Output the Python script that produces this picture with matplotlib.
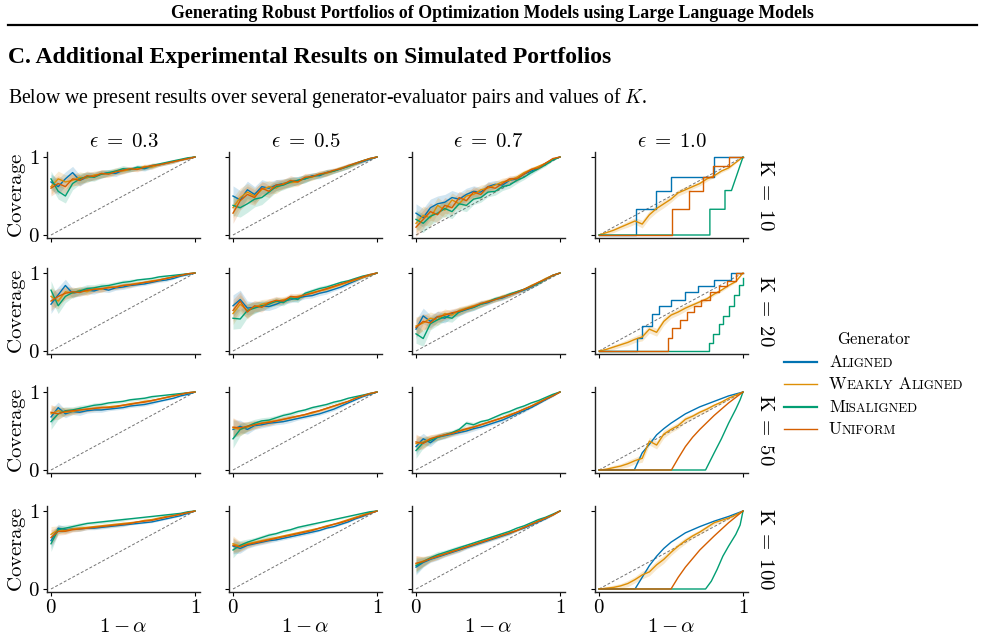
import numpy as np
import matplotlib.pyplot as plt
from matplotlib.lines import Line2D
from matplotlib.offsetbox import TextArea, HPacker, AnchoredOffsetbox

plt.rcParams['font.family'] = 'serif'
plt.rcParams['font.serif'] = ['Liberation Serif', 'DejaVu Serif']
plt.rcParams['mathtext.fontset'] = 'cm'

eps_values = ['0.3', '0.5', '0.7', '1.0']
k_values = [10, 20, 50, 100]
generators = ['Aligned', 'Weakly Aligned', 'Misaligned', 'Uniform']
colors = ['#0173B2', '#DE8F05', '#029E73', '#D55E00']

# x grid (1 - alpha)
one_minus_alpha = [0.0, 0.05, 0.10, 0.15, 0.20, 0.25, 0.30, 0.35, 0.40, 0.45, 0.50,
                   0.55, 0.60, 0.65, 0.70, 0.75, 0.80, 0.85, 0.90, 0.95, 1.0]

# ---- K = 10 ----
aligned_k10_e3 = [0.68, 0.62, 0.72, 0.80, 0.70, 0.74, 0.76, 0.78, 0.80, 0.79, 0.83, 0.84, 0.86, 0.85, 0.88, 0.90, 0.92, 0.94, 0.96, 0.98, 1.0]
weakly_k10_e3 = [0.62, 0.72, 0.68, 0.70, 0.74, 0.73, 0.77, 0.78, 0.79, 0.82, 0.82, 0.84, 0.85, 0.88, 0.87, 0.90, 0.92, 0.94, 0.96, 0.98, 1.0]
misaligned_k10_e3 = [0.72, 0.56, 0.50, 0.66, 0.72, 0.75, 0.74, 0.78, 0.80, 0.82, 0.85, 0.84, 0.87, 0.86, 0.89, 0.91, 0.93, 0.95, 0.97, 0.99, 1.0]
uniform_k10_e3 = [0.60, 0.66, 0.62, 0.72, 0.70, 0.76, 0.75, 0.79, 0.78, 0.81, 0.83, 0.85, 0.84, 0.87, 0.89, 0.90, 0.92, 0.94, 0.96, 0.98, 1.0]
band_k10_e3 = [0.10, 0.10, 0.09, 0.08, 0.07, 0.06, 0.05, 0.05, 0.04, 0.04, 0.04, 0.03, 0.03, 0.03, 0.03, 0.02, 0.02, 0.02, 0.01, 0.01, 0.0]

aligned_k10_e5 = [0.50, 0.45, 0.58, 0.52, 0.62, 0.60, 0.64, 0.66, 0.68, 0.70, 0.72, 0.76, 0.76, 0.80, 0.82, 0.85, 0.88, 0.91, 0.94, 0.97, 1.0]
weakly_k10_e5 = [0.35, 0.48, 0.55, 0.50, 0.58, 0.62, 0.60, 0.66, 0.67, 0.68, 0.73, 0.74, 0.78, 0.79, 0.82, 0.86, 0.88, 0.91, 0.95, 0.98, 1.0]
misaligned_k10_e5 = [0.38, 0.35, 0.40, 0.46, 0.48, 0.55, 0.62, 0.64, 0.68, 0.70, 0.72, 0.75, 0.77, 0.80, 0.82, 0.85, 0.88, 0.92, 0.95, 0.98, 1.0]
uniform_k10_e5 = [0.28, 0.44, 0.52, 0.48, 0.60, 0.56, 0.64, 0.65, 0.70, 0.68, 0.74, 0.75, 0.78, 0.80, 0.83, 0.85, 0.89, 0.92, 0.95, 0.98, 1.0]
band_k10_e5 = [0.13, 0.12, 0.11, 0.10, 0.09, 0.08, 0.07, 0.06, 0.06, 0.05, 0.05, 0.04, 0.04, 0.04, 0.03, 0.03, 0.03, 0.02, 0.02, 0.01, 0.0]

aligned_k10_e7 = [0.28, 0.22, 0.35, 0.40, 0.42, 0.48, 0.46, 0.52, 0.56, 0.55, 0.62, 0.65, 0.64, 0.70, 0.72, 0.78, 0.82, 0.86, 0.92, 0.97, 1.0]
weakly_k10_e7 = [0.15, 0.25, 0.22, 0.38, 0.32, 0.45, 0.40, 0.50, 0.52, 0.58, 0.60, 0.64, 0.68, 0.70, 0.74, 0.80, 0.84, 0.88, 0.92, 0.97, 1.0]
misaligned_k10_e7 = [0.20, 0.15, 0.24, 0.28, 0.34, 0.30, 0.40, 0.38, 0.46, 0.48, 0.55, 0.56, 0.62, 0.64, 0.70, 0.74, 0.80, 0.85, 0.90, 0.96, 1.0]
uniform_k10_e7 = [0.10, 0.20, 0.30, 0.26, 0.38, 0.35, 0.48, 0.44, 0.55, 0.52, 0.62, 0.60, 0.66, 0.72, 0.72, 0.78, 0.84, 0.86, 0.92, 0.98, 1.0]
band_k10_e7 = [0.12, 0.12, 0.11, 0.10, 0.10, 0.09, 0.08, 0.08, 0.07, 0.06, 0.06, 0.05, 0.05, 0.04, 0.04, 0.03, 0.03, 0.02, 0.02, 0.01, 0.0]

# ---- K = 20 ----
aligned_k20_e3 = [0.60, 0.72, 0.84, 0.74, 0.76, 0.78, 0.77, 0.80, 0.78, 0.81, 0.82, 0.84, 0.85, 0.86, 0.88, 0.90, 0.91, 0.93, 0.96, 0.98, 1.0]
weakly_k20_e3 = [0.70, 0.64, 0.76, 0.74, 0.78, 0.76, 0.80, 0.79, 0.82, 0.82, 0.84, 0.85, 0.87, 0.88, 0.90, 0.91, 0.93, 0.95, 0.97, 0.99, 1.0]
misaligned_k20_e3 = [0.78, 0.58, 0.70, 0.75, 0.77, 0.80, 0.81, 0.83, 0.84, 0.86, 0.88, 0.89, 0.91, 0.92, 0.93, 0.95, 0.96, 0.97, 0.98, 0.99, 1.0]
uniform_k20_e3 = [0.64, 0.70, 0.74, 0.76, 0.75, 0.78, 0.79, 0.80, 0.81, 0.82, 0.84, 0.85, 0.86, 0.88, 0.89, 0.91, 0.93, 0.95, 0.97, 0.99, 1.0]
band_k20_e3 = [0.12, 0.10, 0.08, 0.06, 0.05, 0.05, 0.04, 0.04, 0.03, 0.03, 0.03, 0.03, 0.02, 0.02, 0.02, 0.02, 0.02, 0.01, 0.01, 0.01, 0.0]

aligned_k20_e5 = [0.58, 0.66, 0.55, 0.56, 0.58, 0.57, 0.60, 0.64, 0.66, 0.68, 0.70, 0.71, 0.74, 0.76, 0.79, 0.82, 0.86, 0.90, 0.94, 0.97, 1.0]
weakly_k20_e5 = [0.48, 0.60, 0.52, 0.56, 0.60, 0.62, 0.63, 0.66, 0.67, 0.70, 0.72, 0.75, 0.77, 0.79, 0.82, 0.85, 0.88, 0.91, 0.94, 0.97, 1.0]
misaligned_k20_e5 = [0.42, 0.41, 0.52, 0.55, 0.58, 0.60, 0.64, 0.62, 0.68, 0.66, 0.74, 0.77, 0.80, 0.82, 0.85, 0.88, 0.90, 0.93, 0.96, 0.98, 1.0]
uniform_k20_e5 = [0.52, 0.64, 0.50, 0.58, 0.56, 0.62, 0.65, 0.64, 0.70, 0.69, 0.72, 0.74, 0.77, 0.80, 0.83, 0.86, 0.89, 0.92, 0.95, 0.98, 1.0]
band_k20_e5 = [0.14, 0.12, 0.09, 0.07, 0.06, 0.05, 0.05, 0.04, 0.04, 0.04, 0.03, 0.03, 0.03, 0.03, 0.02, 0.02, 0.02, 0.02, 0.01, 0.01, 0.0]

aligned_k20_e7 = [0.28, 0.45, 0.38, 0.44, 0.42, 0.48, 0.50, 0.53, 0.56, 0.60, 0.62, 0.66, 0.68, 0.72, 0.75, 0.78, 0.82, 0.87, 0.92, 0.97, 1.0]
weakly_k20_e7 = [0.32, 0.36, 0.42, 0.40, 0.48, 0.46, 0.52, 0.55, 0.58, 0.60, 0.64, 0.66, 0.70, 0.72, 0.76, 0.79, 0.84, 0.88, 0.93, 0.97, 1.0]
misaligned_k20_e7 = [0.22, 0.16, 0.35, 0.40, 0.44, 0.42, 0.50, 0.54, 0.56, 0.60, 0.63, 0.67, 0.69, 0.73, 0.76, 0.79, 0.83, 0.87, 0.92, 0.97, 1.0]
uniform_k20_e7 = [0.30, 0.38, 0.36, 0.44, 0.46, 0.49, 0.51, 0.54, 0.57, 0.61, 0.63, 0.66, 0.69, 0.72, 0.75, 0.79, 0.83, 0.88, 0.92, 0.97, 1.0]
band_k20_e7 = [0.12, 0.10, 0.08, 0.07, 0.06, 0.05, 0.05, 0.04, 0.04, 0.04, 0.03, 0.03, 0.03, 0.03, 0.02, 0.02, 0.02, 0.02, 0.01, 0.01, 0.0]

# ---- K = 50 ----
aligned_k50_e3 = [0.68, 0.80, 0.72, 0.75, 0.74, 0.76, 0.77, 0.77, 0.78, 0.79, 0.80, 0.82, 0.83, 0.84, 0.86, 0.88, 0.90, 0.92, 0.95, 0.97, 1.0]
weakly_k50_e3 = [0.72, 0.76, 0.74, 0.75, 0.77, 0.78, 0.79, 0.80, 0.81, 0.82, 0.83, 0.85, 0.86, 0.88, 0.89, 0.91, 0.93, 0.95, 0.97, 0.99, 1.0]
misaligned_k50_e3 = [0.62, 0.72, 0.76, 0.77, 0.79, 0.81, 0.83, 0.84, 0.86, 0.87, 0.88, 0.90, 0.91, 0.92, 0.94, 0.95, 0.96, 0.97, 0.98, 0.99, 1.0]
uniform_k50_e3 = [0.74, 0.72, 0.75, 0.76, 0.77, 0.78, 0.79, 0.80, 0.80, 0.81, 0.83, 0.84, 0.86, 0.87, 0.89, 0.91, 0.93, 0.95, 0.97, 0.99, 1.0]
band_k50_e3 = [0.10, 0.07, 0.05, 0.04, 0.04, 0.03, 0.03, 0.03, 0.02, 0.02, 0.02, 0.02, 0.02, 0.02, 0.02, 0.01, 0.01, 0.01, 0.01, 0.01, 0.0]

aligned_k50_e5 = [0.52, 0.56, 0.52, 0.57, 0.58, 0.60, 0.61, 0.62, 0.64, 0.66, 0.68, 0.70, 0.72, 0.75, 0.78, 0.82, 0.86, 0.90, 0.94, 0.97, 1.0]
weakly_k50_e5 = [0.54, 0.52, 0.55, 0.58, 0.60, 0.62, 0.63, 0.65, 0.67, 0.69, 0.71, 0.73, 0.76, 0.79, 0.82, 0.85, 0.88, 0.92, 0.95, 0.98, 1.0]
misaligned_k50_e5 = [0.40, 0.52, 0.56, 0.60, 0.63, 0.64, 0.67, 0.70, 0.72, 0.75, 0.77, 0.80, 0.82, 0.84, 0.87, 0.89, 0.92, 0.94, 0.96, 0.98, 1.0]
uniform_k50_e5 = [0.55, 0.54, 0.56, 0.58, 0.60, 0.61, 0.63, 0.65, 0.67, 0.69, 0.71, 0.74, 0.76, 0.79, 0.82, 0.85, 0.88, 0.92, 0.95, 0.98, 1.0]
band_k50_e5 = [0.12, 0.08, 0.06, 0.05, 0.04, 0.04, 0.03, 0.03, 0.03, 0.02, 0.02, 0.02, 0.02, 0.02, 0.02, 0.02, 0.01, 0.01, 0.01, 0.01, 0.0]

aligned_k50_e7 = [0.30, 0.40, 0.35, 0.42, 0.44, 0.46, 0.48, 0.50, 0.53, 0.55, 0.58, 0.61, 0.64, 0.68, 0.72, 0.76, 0.80, 0.85, 0.90, 0.95, 1.0]
weakly_k50_e7 = [0.34, 0.36, 0.40, 0.42, 0.45, 0.47, 0.50, 0.52, 0.55, 0.58, 0.61, 0.64, 0.67, 0.71, 0.74, 0.78, 0.82, 0.87, 0.91, 0.96, 1.0]
misaligned_k50_e7 = [0.25, 0.35, 0.38, 0.42, 0.45, 0.48, 0.52, 0.60, 0.58, 0.62, 0.64, 0.68, 0.72, 0.75, 0.79, 0.82, 0.86, 0.89, 0.93, 0.97, 1.0]
uniform_k50_e7 = [0.36, 0.34, 0.40, 0.43, 0.45, 0.47, 0.50, 0.53, 0.55, 0.58, 0.61, 0.64, 0.67, 0.70, 0.74, 0.78, 0.82, 0.86, 0.91, 0.95, 1.0]
band_k50_e7 = [0.10, 0.07, 0.05, 0.04, 0.04, 0.03, 0.03, 0.03, 0.03, 0.02, 0.02, 0.02, 0.02, 0.02, 0.02, 0.02, 0.01, 0.01, 0.01, 0.01, 0.0]

# ---- K = 100 ----
aligned_k100_e3 = [0.62, 0.78, 0.76, 0.77, 0.77, 0.78, 0.78, 0.79, 0.80, 0.81, 0.82, 0.83, 0.84, 0.85, 0.86, 0.88, 0.90, 0.92, 0.94, 0.97, 1.0]
weakly_k100_e3 = [0.70, 0.76, 0.75, 0.77, 0.78, 0.79, 0.80, 0.81, 0.82, 0.83, 0.84, 0.85, 0.86, 0.88, 0.89, 0.91, 0.93, 0.94, 0.96, 0.98, 1.0]
misaligned_k100_e3 = [0.58, 0.76, 0.78, 0.80, 0.82, 0.84, 0.85, 0.86, 0.87, 0.88, 0.89, 0.90, 0.91, 0.92, 0.93, 0.94, 0.95, 0.96, 0.97, 0.99, 1.0]
uniform_k100_e3 = [0.66, 0.74, 0.74, 0.76, 0.77, 0.78, 0.79, 0.80, 0.81, 0.82, 0.83, 0.84, 0.86, 0.87, 0.88, 0.90, 0.92, 0.94, 0.96, 0.98, 1.0]
band_k100_e3 = [0.10, 0.05, 0.04, 0.03, 0.03, 0.02, 0.02, 0.02, 0.02, 0.02, 0.02, 0.01, 0.01, 0.01, 0.01, 0.01, 0.01, 0.01, 0.01, 0.01, 0.0]

aligned_k100_e5 = [0.55, 0.52, 0.56, 0.58, 0.60, 0.62, 0.63, 0.65, 0.67, 0.69, 0.71, 0.73, 0.75, 0.78, 0.80, 0.83, 0.86, 0.90, 0.93, 0.97, 1.0]
weakly_k100_e5 = [0.58, 0.55, 0.58, 0.60, 0.62, 0.64, 0.66, 0.68, 0.70, 0.72, 0.74, 0.76, 0.78, 0.81, 0.83, 0.86, 0.89, 0.92, 0.95, 0.98, 1.0]
misaligned_k100_e5 = [0.50, 0.56, 0.60, 0.63, 0.66, 0.69, 0.71, 0.74, 0.76, 0.79, 0.81, 0.83, 0.85, 0.87, 0.89, 0.91, 0.93, 0.95, 0.97, 0.99, 1.0]
uniform_k100_e5 = [0.56, 0.54, 0.57, 0.59, 0.61, 0.63, 0.65, 0.67, 0.69, 0.71, 0.73, 0.75, 0.78, 0.80, 0.83, 0.85, 0.88, 0.91, 0.94, 0.97, 1.0]
band_k100_e5 = [0.10, 0.06, 0.04, 0.03, 0.03, 0.03, 0.02, 0.02, 0.02, 0.02, 0.02, 0.02, 0.01, 0.01, 0.01, 0.01, 0.01, 0.01, 0.01, 0.01, 0.0]

aligned_k100_e7 = [0.28, 0.34, 0.38, 0.41, 0.44, 0.47, 0.50, 0.53, 0.56, 0.59, 0.62, 0.65, 0.68, 0.71, 0.75, 0.78, 0.82, 0.86, 0.90, 0.95, 1.0]
weakly_k100_e7 = [0.32, 0.36, 0.39, 0.42, 0.45, 0.48, 0.51, 0.54, 0.57, 0.60, 0.63, 0.66, 0.69, 0.72, 0.75, 0.79, 0.83, 0.87, 0.91, 0.95, 1.0]
misaligned_k100_e7 = [0.30, 0.35, 0.40, 0.44, 0.47, 0.50, 0.53, 0.56, 0.59, 0.62, 0.65, 0.68, 0.71, 0.74, 0.78, 0.81, 0.85, 0.89, 0.92, 0.96, 1.0]
uniform_k100_e7 = [0.33, 0.35, 0.39, 0.42, 0.45, 0.48, 0.51, 0.54, 0.57, 0.60, 0.63, 0.66, 0.69, 0.72, 0.75, 0.79, 0.83, 0.87, 0.91, 0.95, 1.0]
band_k100_e7 = [0.10, 0.06, 0.04, 0.04, 0.03, 0.03, 0.03, 0.02, 0.02, 0.02, 0.02, 0.02, 0.02, 0.02, 0.01, 0.01, 0.01, 0.01, 0.01, 0.01, 0.0]

# ---- eps = 1.0 : weakly aligned on the common grid ----
weakly_k10_e10 = [0.0, 0.03, 0.06, 0.10, 0.14, 0.18, 0.14, 0.26, 0.34, 0.40, 0.46, 0.54, 0.58, 0.62, 0.66, 0.72, 0.76, 0.82, 0.86, 0.93, 1.0]
weakly_k20_e10 = [0.0, 0.02, 0.05, 0.08, 0.11, 0.15, 0.18, 0.28, 0.24, 0.38, 0.46, 0.50, 0.55, 0.59, 0.63, 0.67, 0.73, 0.78, 0.84, 0.89, 1.0]
weakly_k50_e10 = [0.0, 0.01, 0.03, 0.05, 0.08, 0.12, 0.15, 0.37, 0.32, 0.46, 0.52, 0.57, 0.65, 0.69, 0.74, 0.78, 0.83, 0.87, 0.92, 0.96, 1.0]
weakly_k100_e10 = [0.0, 0.01, 0.02, 0.04, 0.07, 0.12, 0.18, 0.22, 0.31, 0.38, 0.47, 0.55, 0.62, 0.68, 0.73, 0.79, 0.85, 0.88, 0.91, 0.95, 1.0]
band_e10 = [0.0, 0.02, 0.03, 0.03, 0.04, 0.04, 0.05, 0.05, 0.05, 0.05, 0.04, 0.04, 0.04, 0.03, 0.03, 0.03, 0.02, 0.02, 0.02, 0.01, 0.0]

# ---- eps = 1.0 : step / curve series (own x values) ----
aligned_k10_e10_x = [0.0, 0.26, 0.395, 0.50, 0.80, 1.0]
aligned_k10_e10_y = [0.0, 0.33, 0.57, 0.75, 1.0, 1.0]
uniform_k10_e10_x = [0.0, 0.505, 0.626, 0.72, 0.79, 0.90, 1.0]
uniform_k10_e10_y = [0.0, 0.33, 0.57, 0.75, 0.88, 1.0, 1.0]
misaligned_k10_e10_x = [0.0, 0.77, 0.77, 0.875, 0.875, 0.92, 1.0]
misaligned_k10_e10_y = [0.0, 0.0, 0.33, 0.33, 0.57, 0.57, 1.0]

aligned_k20_e10_x = [0.0, 0.265, 0.30, 0.365, 0.42, 0.50, 0.60, 0.69, 0.80, 0.92, 1.0]
aligned_k20_e10_y = [0.0, 0.17, 0.32, 0.47, 0.58, 0.66, 0.75, 0.83, 0.91, 1.0, 1.0]
uniform_k20_e10_x = [0.0, 0.48, 0.51, 0.56, 0.61, 0.66, 0.71, 0.77, 0.83, 0.89, 0.95, 1.0]
uniform_k20_e10_y = [0.0, 0.17, 0.30, 0.40, 0.50, 0.58, 0.66, 0.75, 0.83, 0.90, 1.0, 1.0]
misaligned_k20_e10_x = [0.0, 0.765, 0.79, 0.83, 0.86, 0.90, 0.94, 0.97, 1.0]
misaligned_k20_e10_y = [0.0, 0.10, 0.22, 0.35, 0.45, 0.58, 0.72, 0.85, 0.94]

aligned_k50_e10_x = [0.0, 0.245, 0.27, 0.30, 0.35, 0.40, 0.45, 0.50, 0.55, 0.60, 0.70, 0.80, 0.90, 1.0]
aligned_k50_e10_y = [0.0, 0.0, 0.10, 0.22, 0.33, 0.45, 0.53, 0.60, 0.66, 0.72, 0.81, 0.88, 0.95, 1.0]
uniform_k50_e10_x = [0.0, 0.503, 0.55, 0.60, 0.65, 0.70, 0.80, 0.90, 1.0]
uniform_k50_e10_y = [0.0, 0.0, 0.15, 0.30, 0.42, 0.52, 0.70, 0.86, 1.0]
misaligned_k50_e10_x = [0.0, 0.74, 0.80, 0.85, 0.90, 0.95, 0.98, 1.0]
misaligned_k50_e10_y = [0.0, 0.0, 0.22, 0.40, 0.60, 0.78, 0.90, 1.0]

aligned_k100_e10_x = [0.0, 0.25, 0.30, 0.35, 0.40, 0.45, 0.50, 0.60, 0.70, 0.80, 0.90, 1.0]
aligned_k100_e10_y = [0.0, 0.0, 0.15, 0.30, 0.42, 0.52, 0.60, 0.72, 0.80, 0.87, 0.93, 1.0]
uniform_k100_e10_x = [0.0, 0.50, 0.55, 0.60, 0.70, 0.80, 0.90, 1.0]
uniform_k100_e10_y = [0.0, 0.0, 0.15, 0.28, 0.50, 0.68, 0.85, 1.0]
misaligned_k100_e10_x = [0.0, 0.74, 0.78, 0.82, 0.86, 0.90, 0.95, 0.98, 1.0]
misaligned_k100_e10_y = [0.0, 0.0, 0.10, 0.25, 0.42, 0.55, 0.70, 0.82, 1.0]

# tables built from the lists above: rows = K, columns = eps 0.3 / 0.5 / 0.7
noisy = [
    [(aligned_k10_e3, weakly_k10_e3, misaligned_k10_e3, uniform_k10_e3, band_k10_e3),
     (aligned_k10_e5, weakly_k10_e5, misaligned_k10_e5, uniform_k10_e5, band_k10_e5),
     (aligned_k10_e7, weakly_k10_e7, misaligned_k10_e7, uniform_k10_e7, band_k10_e7)],
    [(aligned_k20_e3, weakly_k20_e3, misaligned_k20_e3, uniform_k20_e3, band_k20_e3),
     (aligned_k20_e5, weakly_k20_e5, misaligned_k20_e5, uniform_k20_e5, band_k20_e5),
     (aligned_k20_e7, weakly_k20_e7, misaligned_k20_e7, uniform_k20_e7, band_k20_e7)],
    [(aligned_k50_e3, weakly_k50_e3, misaligned_k50_e3, uniform_k50_e3, band_k50_e3),
     (aligned_k50_e5, weakly_k50_e5, misaligned_k50_e5, uniform_k50_e5, band_k50_e5),
     (aligned_k50_e7, weakly_k50_e7, misaligned_k50_e7, uniform_k50_e7, band_k50_e7)],
    [(aligned_k100_e3, weakly_k100_e3, misaligned_k100_e3, uniform_k100_e3, band_k100_e3),
     (aligned_k100_e5, weakly_k100_e5, misaligned_k100_e5, uniform_k100_e5, band_k100_e5),
     (aligned_k100_e7, weakly_k100_e7, misaligned_k100_e7, uniform_k100_e7, band_k100_e7)],
]
eps_one = [
    dict(weakly=weakly_k10_e10, steps=True,
         aligned=(aligned_k10_e10_x, aligned_k10_e10_y),
         misaligned=(misaligned_k10_e10_x, misaligned_k10_e10_y),
         uniform=(uniform_k10_e10_x, uniform_k10_e10_y)),
    dict(weakly=weakly_k20_e10, steps=True,
         aligned=(aligned_k20_e10_x, aligned_k20_e10_y),
         misaligned=(misaligned_k20_e10_x, misaligned_k20_e10_y),
         uniform=(uniform_k20_e10_x, uniform_k20_e10_y)),
    dict(weakly=weakly_k50_e10, steps=False,
         aligned=(aligned_k50_e10_x, aligned_k50_e10_y),
         misaligned=(misaligned_k50_e10_x, misaligned_k50_e10_y),
         uniform=(uniform_k50_e10_x, uniform_k50_e10_y)),
    dict(weakly=weakly_k100_e10, steps=False,
         aligned=(aligned_k100_e10_x, aligned_k100_e10_y),
         misaligned=(misaligned_k100_e10_x, misaligned_k100_e10_y),
         uniform=(uniform_k100_e10_x, uniform_k100_e10_y)),
]

W, H = 985, 637
fig = plt.figure(figsize=(W / 100, H / 100), dpi=100)

# page header
fig.text(0.5, 1 - 14 / H, 'Generating Robust Portfolios of Optimization Models using Large Language Models',
         ha='center', va='center', fontsize=12.8, fontweight='bold')
fig.add_artist(Line2D([8 / W, 977 / W], [1 - 25 / H, 1 - 25 / H], color='black', lw=1.6))
fig.text(8 / W, 1 - 57 / H, 'C. Additional Experimental Results on Simulated Portfolios',
         ha='left', va='center', fontsize=17, fontweight='bold')
fig.text(8 / W, 1 - 98 / H, 'Below we present results over several generator-evaluator pairs and values of $K$.',
         ha='left', va='center', fontsize=14.2)

x0_px = [51, 233, 416, 599]
y1_px = [157, 273, 392, 511]
dw, dh = 144, 78
xlo, xhi = -0.028, 1.035
ylo, yhi = -0.04, 1.06
x = np.array(one_minus_alpha)
txt = 15

for r in range(4):
    for c in range(4):
        left = x0_px[c] + xlo * dw
        width = (xhi - xlo) * dw
        top = y1_px[r] + (1 - yhi) * dh
        height = (yhi - ylo) * dh
        ax = fig.add_axes([left / W, 1 - (top + height) / H, width / W, height / H])
        ax.set_xlim(xlo, xhi)
        ax.set_ylim(ylo, yhi)
        ax.plot([0, 1], [0, 1], ls=(0, (3, 2)), color='0.45', lw=0.7, zorder=1)

        if c < 3:
            a, wk, m, u, band = noisy[r][c]
            b = np.array(band)
            for series, col in zip([a, wk, m, u], colors):
                s = np.array(series)
                ax.fill_between(x, s - b, np.minimum(s + b, 1.0), color=col, alpha=0.18, lw=0)
            for series, col in zip([a, wk, m, u], colors):
                ax.plot(x, series, color=col, lw=1.0)
        else:
            d = eps_one[r]
            ds = 'steps-post' if d['steps'] else 'default'
            s = np.array(d['weakly'])
            b = np.array(band_e10)
            ax.fill_between(x, np.maximum(s - b, 0), np.minimum(s + b, 1.0), color=colors[1], alpha=0.2, lw=0)
            ax.plot(*d['aligned'], color=colors[0], lw=1.0, drawstyle=ds)
            ax.plot(x, d['weakly'], color=colors[1], lw=1.0)
            ax.plot(*d['misaligned'], color=colors[2], lw=1.0,
                    drawstyle='default' if r == 0 else ds)
            ax.plot(*d['uniform'], color=colors[3], lw=1.0, drawstyle=ds)

        for side in ['top', 'right']:
            ax.spines[side].set_visible(False)
        for side in ['left', 'bottom']:
            ax.spines[side].set_linewidth(1.0)
            ax.spines[side].set_color('#222222')
        ax.set_xticks([0, 1])
        ax.set_yticks([0, 1])
        ax.tick_params(length=3, width=0.8, pad=2, labelsize=txt)
        if c == 0:
            ax.set_yticklabels(['$0$', '$1$'])
            ax.set_ylabel(r'$\mathrm{Coverage}$', fontsize=txt, labelpad=0)
        else:
            ax.set_yticklabels([])
        if r == 3:
            ax.set_xticklabels(['$0$', '$1$'])
            ax.set_xlabel(r'$1-\alpha$', fontsize=txt, labelpad=0)
        else:
            ax.set_xticklabels([])
        if r == 0:
            ax.set_title(r'$\epsilon\;=\;%s$' % eps_values[c], fontsize=txt, pad=3)
        if c == 3:
            ax.text(1.11, 0.5, r'$\mathrm{K}\;=\;%d$' % k_values[r], transform=ax.transAxes,
                    rotation=270, ha='center', va='center', fontsize=txt)

# legend with small caps labels
fig.text(874 / W, 1 - 339 / H, 'Generator', ha='center', va='center', fontsize=12, family='cmr10')
label_parts = [[('A', 'LIGNED')], [('W', 'EAKLY'), (' A', 'LIGNED')], [('M', 'ISALIGNED')], [('U', 'NIFORM')]]
legend_lw = [1.6, 1.0, 1.6, 1.0]
row_y = [362, 384, 407, 429]
for parts, col, lw, yy in zip(label_parts, colors, legend_lw, row_y):
    fy = 1 - yy / H
    fig.add_artist(Line2D([784 / W, 817 / W], [fy, fy], color=col, lw=lw))
    boxes = []
    for big, small in parts:
        boxes.append(TextArea(big, textprops=dict(fontsize=12.3, family='cmr10')))
        boxes.append(TextArea(small, textprops=dict(fontsize=9.4, family='cmr10')))
    pack = HPacker(children=boxes, align='baseline', pad=0, sep=0)
    anch = AnchoredOffsetbox(loc='center left', child=pack, pad=0, borderpad=0, frameon=False,
                             bbox_to_anchor=(829 / W, fy), bbox_transform=fig.transFigure)
    fig.add_artist(anch)

fig.savefig('out.png', dpi=100)
